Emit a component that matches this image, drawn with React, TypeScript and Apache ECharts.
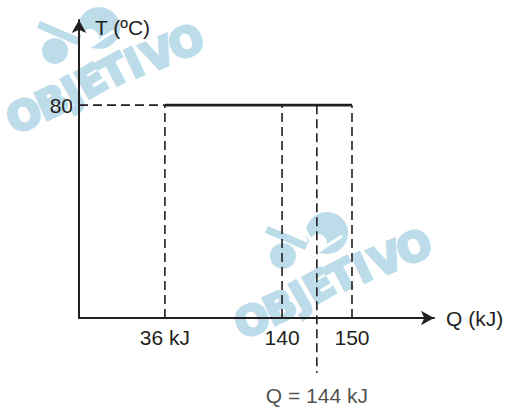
import React, { useEffect, useRef } from "react";
import * as echarts from "echarts";

// Marked heat quantities (kJ) and their labels
const markValuesKJ = [36, 140, 144, 150];
const markLabels = ["36 kJ", "140", "Q = 144 kJ", "150"];
// The diagram is not drawn to scale: schematic position of each mark along the Q axis (axis spans 0–100)
const markPositions = [24.2, 57.2, 67.0, 76.9];
// Plateau temperature (ºC)
const plateauT = 80;
const yTickValues = [80];
// How far the Q = 144 kJ line extends below the Q axis (in T units)
const belowAxisExtent = -20.7;

const TEXT = "#231f20";
const FONT = "'Liberation Sans', Arial, Helvetica, sans-serif";
const WM = "#bcdcea";
const FS = 21;

const wmLetters: [string, number, number, number][] = [
  ["O", 252, 320, 20],
  ["B", 280, 307, 25],
  ["J", 300, 296, 30],
  ["E", 319, 286, 30],
  ["T", 342, 276, 28],
  ["I", 362, 268, 25],
  ["V", 386, 259, 23],
  ["O", 414, 247, 20],
];

function watermark(dx: number, dy: number) {
  const children: any[] = [
    { type: "circle", shape: { cx: 327, cy: 233, r: 21 }, style: { fill: WM } },
    { type: "circle", shape: { cx: 318, cy: 243, r: 9 }, style: { fill: "#ffffff" } },
    {
      type: "polyline",
      shape: { points: [[304, 228], [317, 252], [342, 236]] },
      style: { stroke: "#ffffff", lineWidth: 3, fill: null },
    },
    {
      type: "polygon",
      shape: { points: [[265, 233], [268, 226], [308, 243], [305, 250]] },
      style: { fill: WM },
    },
    { type: "circle", shape: { cx: 283, cy: 256, r: 13 }, style: { fill: WM } },
  ];
  wmLetters.forEach(([ch, x, y, deg]) => {
    children.push({
      type: "text",
      x,
      y,
      rotation: (deg * Math.PI) / 180,
      style: {
        text: ch,
        fill: WM,
        stroke: WM,
        lineWidth: 3,
        fontSize: 40,
        fontWeight: "bold",
        fontFamily: "'DejaVu Sans', 'Liberation Sans', sans-serif",
        align: "center",
        verticalAlign: "middle",
      },
    });
  });
  return { type: "group", x: dx, y: dy, z: 0, children };
}

export default function App() {
  const ref = useRef<HTMLDivElement>(null);

  useEffect(() => {
    if (!ref.current) return;
    const chart = echarts.init(ref.current, null, { renderer: "svg" });

    const labelFor = (v: number) => {
      let best = 0;
      markPositions.forEach((p, i) => {
        if (Math.abs(p - v) < Math.abs(markPositions[best] - v)) best = i;
      });
      return markLabels[best];
    };

    const dashed = {
      color: TEXT,
      width: 1.6,
      type: [9, 5] as number[],
    };

    const verticals = [0, 1, 3].map((i) => ({
      type: "line",
      data: [
        [markPositions[i], 0],
        [markPositions[i], plateauT],
      ],
      symbol: "none",
      lineStyle: dashed,
      z: 2,
    }));

    const option: any = {
      animation: false,
      backgroundColor: "#ffffff",
      textStyle: { fontFamily: FONT, color: TEXT },
      graphic: [watermark(0, 0), watermark(-228, -205)],
      grid: { left: 79, top: 20, width: 355, height: 298, outerBoundsMode: "none" },
      xAxis: {
        type: "value",
        min: 0,
        max: 100,
        name: "Q (kJ)",
        nameLocation: "end",
        nameGap: 12,
        nameTextStyle: {
          fontSize: FS,
          color: TEXT,
          fontFamily: FONT,
          align: "left",
          verticalAlign: "middle",
        },
        axisLine: {
          show: true,
          onZero: false,
          symbol: ["none", "arrow"],
          symbolSize: [11, 13],
          lineStyle: { color: TEXT, width: 2 },
        },
        axisTick: { show: false },
        splitLine: { show: false },
        axisLabel: {
          show: true,
          customValues: [markPositions[0], markPositions[1], markPositions[3]],
          formatter: (v: number) => labelFor(v),
          fontSize: FS,
          color: TEXT,
          fontFamily: FONT,
          margin: 9,
        },
      },
      yAxis: {
        type: "value",
        min: 0,
        max: 112,
        name: "T (ºC)",
        nameLocation: "end",
        nameGap: -7,
        nameTextStyle: {
          fontSize: FS,
          color: TEXT,
          fontFamily: FONT,
          align: "left",
          verticalAlign: "middle",
          padding: [0, 0, 0, 16],
        },
        axisLine: {
          show: true,
          onZero: false,
          symbol: ["none", "arrow"],
          symbolSize: [11, 13],
          lineStyle: { color: TEXT, width: 2 },
        },
        axisTick: { show: false },
        splitLine: { show: false },
        axisLabel: {
          show: true,
          customValues: yTickValues,
          fontSize: FS,
          color: TEXT,
          fontFamily: FONT,
          margin: 6,
        },
      },
      series: [
        {
          type: "line",
          data: [
            [0, plateauT],
            [markPositions[0], plateauT],
          ],
          symbol: "none",
          lineStyle: dashed,
          z: 2,
        },
        ...verticals,
        {
          type: "line",
          clip: false,
          data: [
            [markPositions[2], plateauT],
            [markPositions[2], belowAxisExtent],
          ],
          symbol: "none",
          lineStyle: dashed,
          z: 2,
        },
        {
          type: "scatter",
          clip: false,
          data: [[markPositions[2], belowAxisExtent]],
          symbolSize: 1,
          itemStyle: { color: "rgba(0,0,0,0)" },
          label: {
            show: true,
            position: "bottom",
            distance: 11,
            formatter: () => markLabels[2],
            fontSize: FS,
            color: TEXT,
            fontFamily: FONT,
          },
          z: 3,
        },
        {
          type: "line",
          data: [
            [markPositions[0], plateauT],
            [markPositions[3], plateauT],
          ],
          symbol: "none",
          lineStyle: { color: TEXT, width: 2.6 },
          z: 3,
        },
      ],
    };

    chart.setOption(option);
    return () => chart.dispose();
  }, []);

  return (
    <div
      ref={ref}
      style={{ position: "fixed", left: 0, top: 0, width: 506, height: 408 }}
    />
  );
}
